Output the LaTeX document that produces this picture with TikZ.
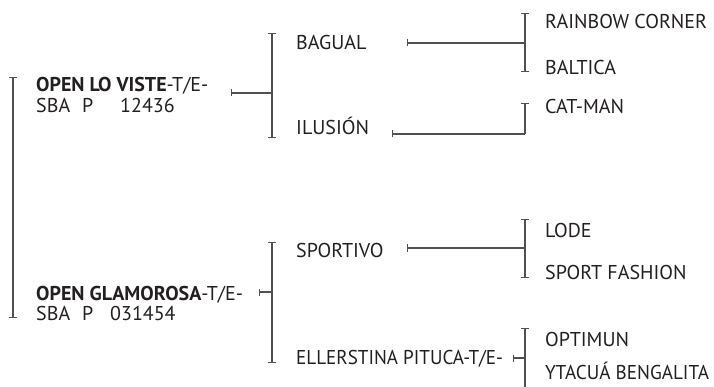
\documentclass[tikz,border=0pt]{standalone}
\usepackage{fontspec}
\setmainfont{PT Sans}
\usetikzlibrary{arrows.meta}
\definecolor{txt}{HTML}{231F20}
\definecolor{lin}{HTML}{505050}
\begin{document}
\begin{tikzpicture}[x=1pt,y=-1pt,
  lbl/.style={anchor=base west,inner sep=0pt,font=\fontsize{20}{22}\selectfont,text=txt},
  ln/.style={draw=lin,line width=1.3pt},
  brk/.style={ln,{Bar[width=8pt,line width=1.3pt]}-{Bar[width=8pt,line width=1.3pt]}},
  topbrk/.style={ln,{Bar[width=8pt,line width=1.3pt]}-},
  tk/.style={ln,{Bar[width=7pt,line width=1.3pt]}-}]
\useasboundingbox (0,0) rectangle (714,387);

% left column
\node[lbl] (lv1) at (36,92) {\textbf{OPEN LO VISTE}-T/E-};
\node[lbl] (lv2) at (36,113) {\makebox[46pt][l]{SBA}\makebox[38pt][l]{P}12436};
\node[lbl] (gl1) at (36,300) {\textbf{OPEN GLAMOROSA}-T/E-};
\node[lbl] (gl2) at (36,320) {\makebox[46pt][l]{SBA}\makebox[28pt][l]{P}031454};

% middle column
\node[lbl] (bag) at (296,50) {BAGUAL};
\node[lbl] (ilu) at (296,135) {ILUSIÓN};
\node[lbl] (spo) at (296,257) {SPORTIVO};
\node[lbl] (ell) at (296,364) {\scalebox{0.955}[1]{ELLERSTINA PITUCA-T/E-}};

% right column
\node[lbl] (rai) at (545,29) {RAINBOW CORNER};
\node[lbl] (bal) at (545,75) {BALTICA};
\node[lbl] (cat) at (545,114) {CAT-MAN};
\node[lbl] (lod) at (545,237) {LODE};
\node[lbl] (sfa) at (545,279) {SPORT FASHION};
\node[lbl] (opt) at (545,346) {OPTIMUN};
\node[lbl,text depth=0pt] (yta) at (545,379) {\scalebox{0.96}[1]{YTACUÁ BENGALITA}};

% bracket coordinates
\coordinate (L1) at (13,77);  \coordinate (L2) at (13,318);
\coordinate (A1) at (272,33); \coordinate (A2) at (272,138); \coordinate (Am) at (272,93);
\coordinate (B1) at (272,242);\coordinate (B2) at (272,363); \coordinate (Bm) at (272,292);
\coordinate (R1) at (525,13); \coordinate (R2) at (525,72);  \coordinate (Rm) at (525,43);
\coordinate (C1) at (525,103);\coordinate (Cm) at (525,134);
\coordinate (S1) at (525,219);\coordinate (S2) at (525,278); \coordinate (Sm) at (525,248);
\coordinate (O1) at (525,328);\coordinate (O2) at (525,400); \coordinate (Om) at (525,358);
\coordinate (t1) at (231,93);
\coordinate (t2) at (259,292);
\coordinate (t3) at (407,43);
\coordinate (t4) at (392,134);
\coordinate (t5) at (407,248);
\coordinate (t6) at (513,358);

% brackets
\draw[brk] (L1) -- (L2);
\draw[brk] (A1) -- (A2);
\draw[brk] (B1) -- (B2);
\draw[brk] (R1) -- (R2);
\draw[brk] (S1) -- (S2);
\draw[topbrk] (O1) -- (O2);
\draw[topbrk] (C1) -- (Cm);

% connectors
\draw[tk] (t1) -- (Am);
\draw[tk] (t2) -- (Bm);
\draw[tk] (t3) -- (Rm);
\draw[tk] (t4) -- (Cm);
\draw[tk] (t5) -- (Sm);
\draw[tk] (t6) -- (Om);
\end{tikzpicture}
\end{document}
